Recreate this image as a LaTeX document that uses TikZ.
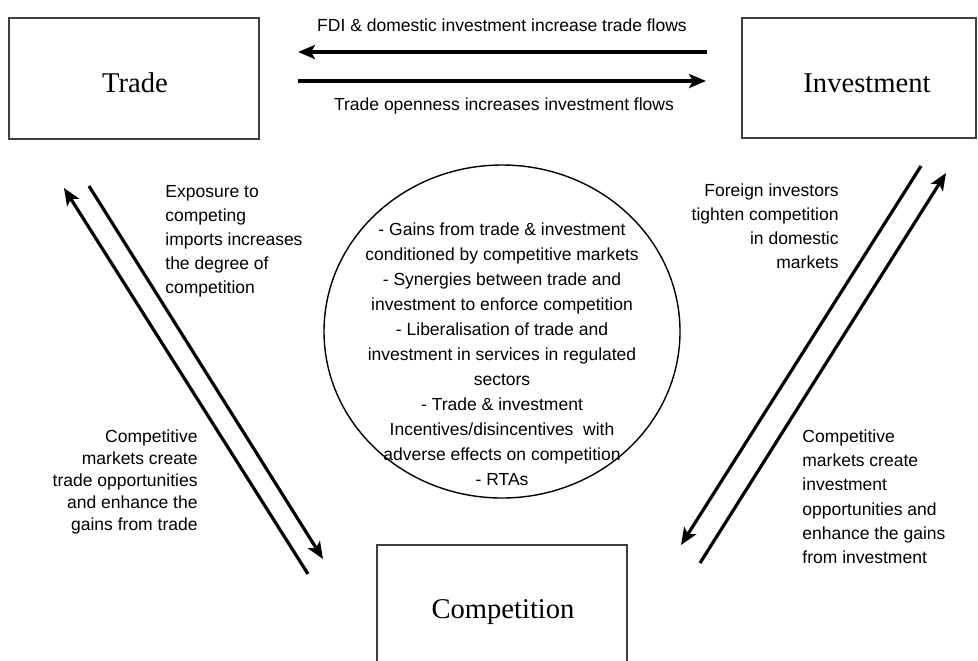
\documentclass[tikz,border=0pt]{standalone}
\usepackage{fontspec}
\setmainfont{Liberation Serif}
\newfontfamily\arialf{Liberation Sans}
\usetikzlibrary{arrows.meta,shapes.geometric}
\begin{document}
\begin{tikzpicture}[x=0.5pt,y=-0.5pt,
  box/.style={draw=black!75, line width=0.6pt, inner sep=0pt},
  boxlabel/.style={font=\fontsize{14.3}{17}\selectfont, anchor=base, inner sep=0pt},
  flow/.style={line width=1.6pt, -{Stealth[length=8.5pt,width=7pt,inset=2pt]}},
  lbl/.style={font=\arialf\fontsize{8.75}{11.75}\selectfont, inner sep=0pt},
  ]
\useasboundingbox (0,0) rectangle (978,660);
\clip (0,0) rectangle (978,660);

% boxes
\node[box, minimum width=125pt, minimum height=60.5pt] (trade) at (134,78.5) {};
\node[box, minimum width=117pt, minimum height=60pt] (inv) at (859,78) {};
\node[box, minimum width=125pt, minimum height=60.5pt] (comp) at (502,605.5) {};
\node[boxlabel] (tradet) at (135,92) {Trade};
\node[boxlabel] (invt) at (867,92) {Investment};
\node[boxlabel] (compt) at (503,618) {Competition};

% central ellipse
\node[draw, ellipse, line width=0.7pt, minimum width=178pt, minimum height=166.5pt, inner sep=0pt] (hub) at (502,331.5) {};
\node[lbl, anchor=north, align=center, font=\arialf\fontsize{8.75}{12.5}\selectfont] (hubt) at (502,222.5)
 {- Gains from trade \& investment\\conditioned by competitive markets\\- Synergies between trade and\\investment to enforce competition\\- Liberalisation of trade and\\investment in services in regulated\\sectors\\- Trade \& investment\\Incentives/disincentives\ \ with\\adverse effects on competition\\- RTAs};

% top arrows
\coordinate (a1s) at (707,52); \coordinate (a1e) at (298,52);
\coordinate (a2s) at (298,81); \coordinate (a2e) at (706,81);
\draw[flow] (a1s) -- (a1e);
\draw[flow] (a2s) -- (a2e);
\node[lbl, anchor=base] (fdi) at (502,31) {FDI \& domestic investment increase trade flows};
\node[lbl, anchor=base] (open) at (504,110) {Trade openness increases investment flows};

% left arrows
\coordinate (b1s) at (308,574); \coordinate (b1e) at (64,188);
\coordinate (b2s) at (89,186); \coordinate (b2e) at (323,559);
\draw[flow] (b1s) -- (b1e);
\draw[flow] (b2s) -- (b2e);
\node[lbl, anchor=north west, align=left, font=\arialf\fontsize{8.75}{11.9}\selectfont] (ltop) at (165,185.5)
 {Exposure to\\competing\\imports increases\\the degree of\\competition};
\node[lbl, anchor=north east, align=right, font=\arialf\fontsize{8.75}{11}\selectfont] (lbot) at (198,429.5)
 {Competitive\\markets create\\trade opportunities\\and enhance the\\gains from trade};

% right arrows
\coordinate (c1s) at (921,166); \coordinate (c1e) at (681,545);
\coordinate (c2s) at (700,563); \coordinate (c2e) at (946,173);
\draw[flow] (c1s) -- (c1e);
\draw[flow] (c2s) -- (c2e);
\node[lbl, anchor=north east, align=right, font=\arialf\fontsize{8.75}{12}\selectfont] (rtop) at (839,183.5)
 {Foreign investors\\tighten competition\\in domestic\\markets};
\node[lbl, anchor=north west, align=left, font=\arialf\fontsize{8.75}{12.1}\selectfont] (rbot) at (802,429.5)
 {Competitive\\markets create\\investment\\opportunities and\\enhance the gains\\from investment};
\end{tikzpicture}
\end{document}
